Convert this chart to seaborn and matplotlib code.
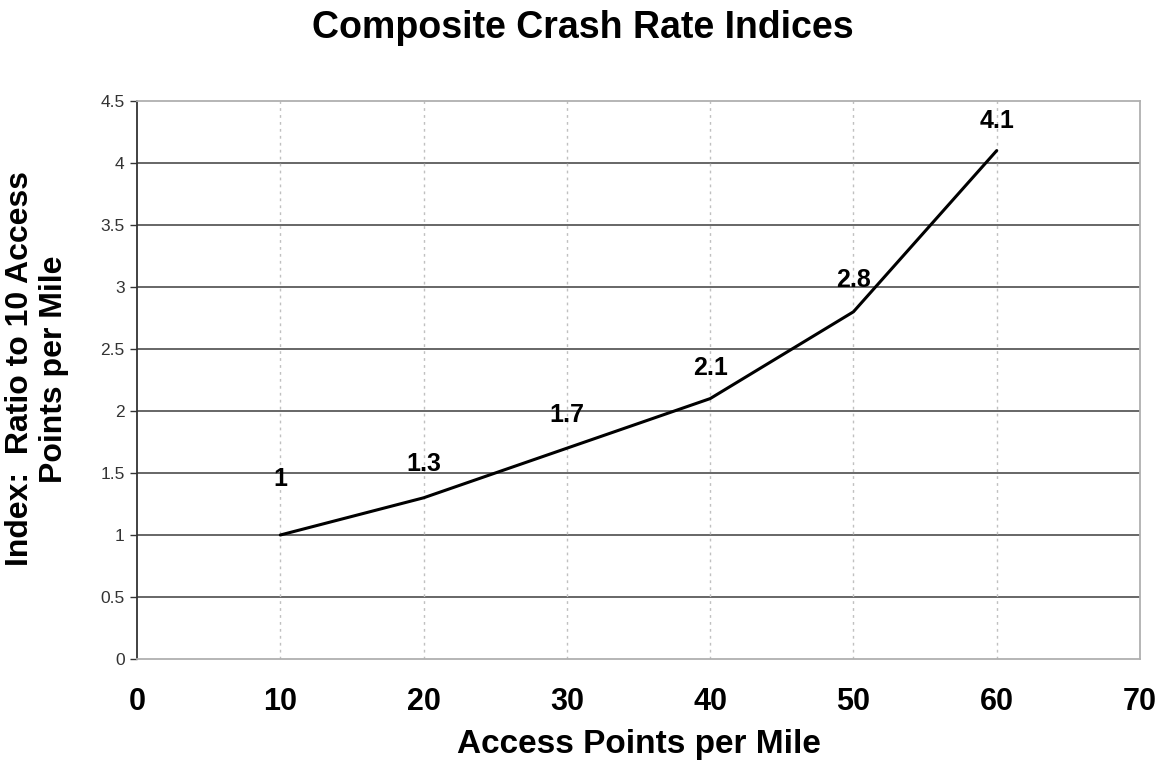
import numpy as np
import pandas as pd
import seaborn as sns
import matplotlib.pyplot as plt

# data
access_points = [10, 20, 30, 40, 50, 60]
crash_index = [1.0, 1.3, 1.7, 2.1, 2.8, 4.1]
x_ticks = [0, 10, 20, 30, 40, 50, 60, 70]
y_ticks = [0, 0.5, 1, 1.5, 2, 2.5, 3, 3.5, 4, 4.5]

df = pd.DataFrame({"Access Points per Mile": access_points, "Index": crash_index})

sns.set_style("white")
plt.rcParams["font.family"] = ["Liberation Sans", "DejaVu Sans"]
plt.rcParams["text.color"] = "black"
plt.rcParams["axes.labelcolor"] = "black"

fig = plt.figure(figsize=(11.66, 7.61), dpi=100)
ax = fig.add_axes([0.1175, 0.134, 0.8602, 0.7333])

sns.lineplot(data=df, x="Access Points per Mile", y="Index", ax=ax,
             color="black", linewidth=2.2)

ax.set_xlim(0, 70)
ax.set_ylim(0, 4.5)
ax.set_xticks(x_ticks)
ax.set_yticks(y_ticks)
ax.set_yticklabels([f"{v:g}" for v in y_ticks])

# gridlines: dark solid horizontals, light dotted verticals
for v in y_ticks[1:-1]:
    ax.axhline(v, color="#5a5a5a", linewidth=1.3, zorder=0)
for v in x_ticks[1:-1]:
    ax.axvline(v, color="#c0c0c0", linewidth=1.0, linestyle=(0, (2, 3)), zorder=0)

for side in ["top", "right", "bottom"]:
    ax.spines[side].set_color("#b0b0b0")
    ax.spines[side].set_linewidth(1.3)
ax.spines["left"].set_color("#333333")
ax.spines["left"].set_linewidth(1.3)

ax.tick_params(axis="x", length=0, pad=20, labelsize=22, labelcolor="black")
ax.tick_params(axis="y", length=5, width=1, color="#333333", pad=4,
               labelsize=12.5, labelcolor="#333333", left=True)
for lab in ax.get_xticklabels():
    lab.set_fontweight("bold")

ax.set_xlabel("Access Points per Mile", fontsize=24, fontweight="bold", labelpad=9)
ax.set_ylabel("Index:  Ratio to 10 Access\nPoints per Mile", fontsize=23,
              fontweight="bold", linespacing=1.15)
ax.yaxis.set_label_coords(-0.068, 0.52)

# data labels above each point
offsets = [40, 24, 24, 22, 23, 21]
for x, y, off in zip(access_points, crash_index, offsets):
    ax.annotate(f"{y:g}", (x, y), xytext=(0, off), textcoords="offset points",
                ha="center", va="center", fontsize=18, fontweight="bold")

fig.suptitle("Composite Crash Rate Indices", fontsize=27, fontweight="bold", y=0.963, va="center")

fig.savefig("out.png", dpi=100)
